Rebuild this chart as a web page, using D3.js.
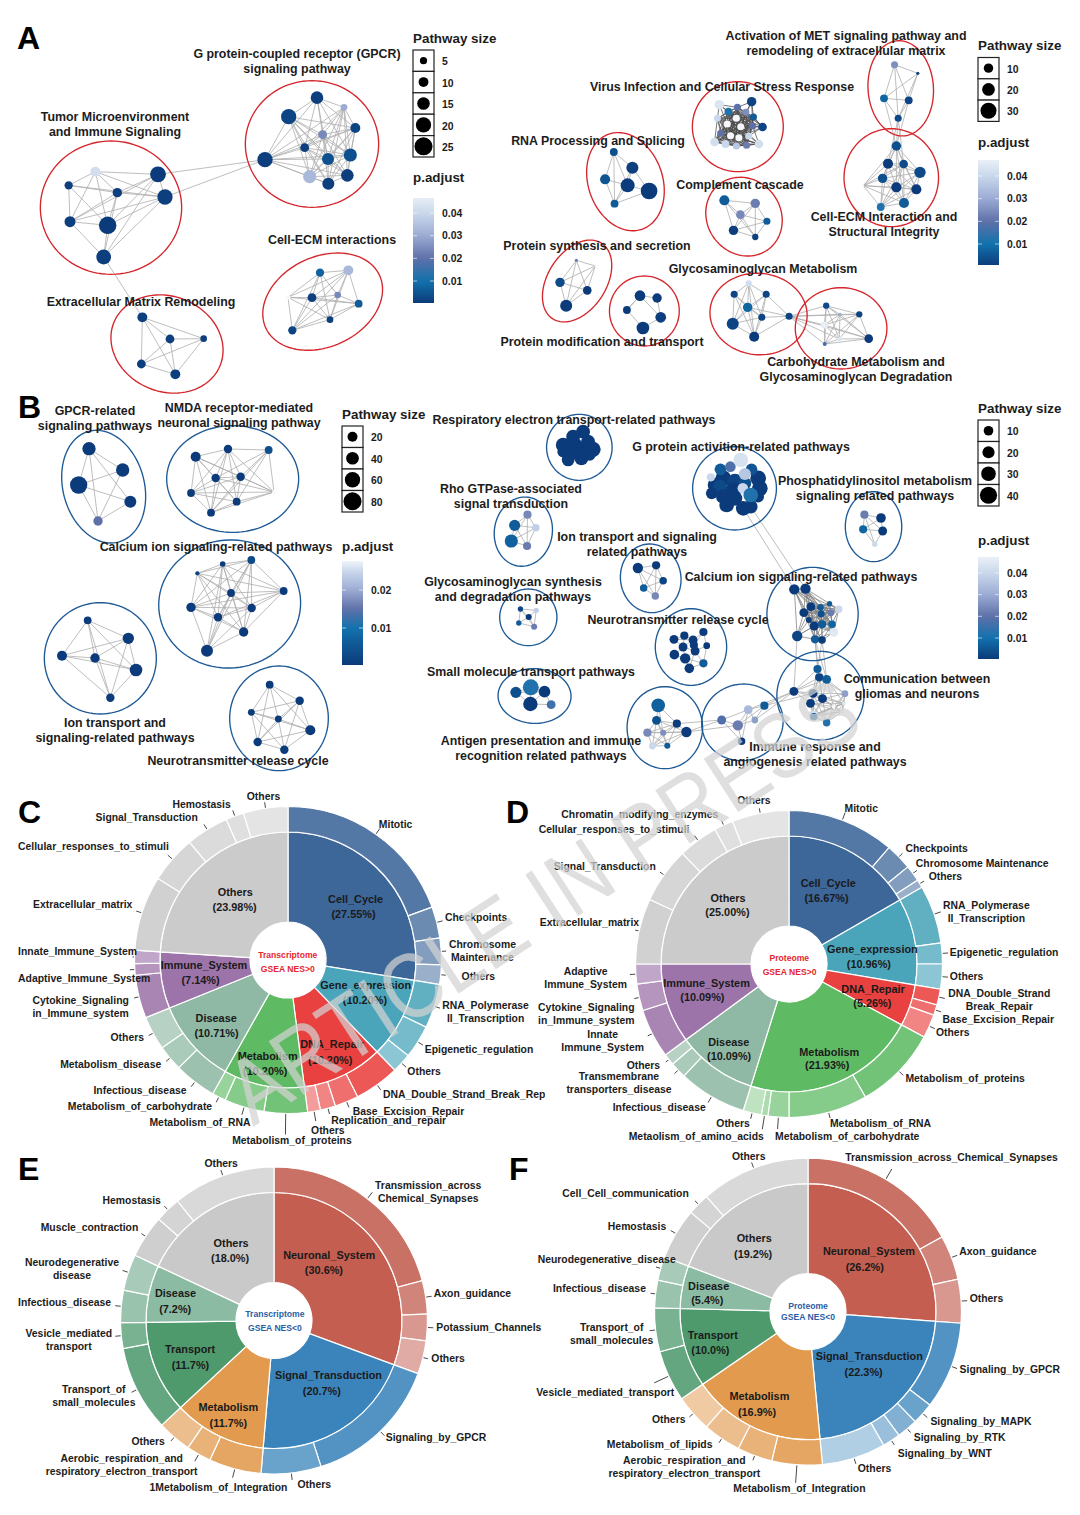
<!DOCTYPE html>
<html><head><meta charset="utf-8">
<script src="https://cdnjs.cloudflare.com/ajax/libs/d3/7.8.5/d3.min.js"></script>
<style>html,body{margin:0;padding:0;background:#fff}svg{display:block}text{font-family:"Liberation Sans",Arial,sans-serif}</style>
</head><body><svg id="c" width="1080" height="1515"></svg>
<script>
// ---------- DATA: network panels. Node = [layoutX, layoutY, pathway size, p.adjust]; edges = "source-targets" in base 36
const nTumor=[[286,470,10,.042],[474,478,21,.0005],[206,511,7,.001],[352,533,9,.001],[495,546,20,.001],[210,620,12,.001],[323,631,24,.0005],[311,726,19,.001]];
const eTumor="0-123456,1-34567,2-3456,3-4567,4-567,5-67,6-7";
const nGPCR=[[951,248,15,.001],[866,305,20,.002],[1032,277,4,.03],[1066,339,10,.002],[968,359,8,.024],[914,398,8,.001],[795,434,20,.001],[984,432,14,.004],[1051,420,16,.004],[929,485,16,.033],[985,506,14,.001],[1042,481,15,.001]];
const eGPCR="0-12345678,1-3456789ab,2-3456789ab,3-456789ab,4-56789ab,5-6789ab,6-789ab,7-89ab,8-9ab,9-ab,a-b";
const nCellECM=[[960,773,7,.007],[1045,766,10,.033],[864,847,1,.05],[936,848,8,.001],[1013,840,4,.024],[1076,866,6,.006],[990,914,4,.001],[877,946,7,.002]];
const eCellECM="0-123467,1-234567,2-3567,3-4567,4-567,5-67,6-7";
const nExt=[[427,907,10,.001],[510,972,8,.001],[611,971,4,.001],[424,1047,8,.001],[526,1078,10,.001]];
const eExt="0-1234,1-234,2-34,3-4";

const nMET=[[1085,134,7,.025],[1149,160,2,.001],[1056,235,8,.008],[1124,241,8,.002],[1095,295,7,.003]];
const eMET="0-1234,1-234,2-34,3-4";
const nVirus=[[692,245,10,.002],[603,254,10,.044],[628,275,8,.012],[653,262,7,.02],[676,277,7,.025],[697,291,7,.006],[722,321,9,.002],[598,295,7,.04],[650,295,7,.05],[625,312,7,.05],[662,320,7,.05],[695,318,7,.02],[607,340,7,.02],[634,347,7,.05],[657,353,7,.05],[684,348,7,.04],[590,366,9,.042],[620,372,8,.04],[650,378,7,.036],[678,376,7,.022],[712,372,9,.042]];
const eVirus="0-345ab,1-23789,2-3456789abcdefghij,3-456789abcdefghij,4-56789abcdefghij,5-6789abcdefghij,6-5abef,7-89abcdefghij,8-9abcdefghij,9-abcdefghij,a-bcdefghijk,b-cdefghijk,c-defghijk,d-efghijk,e-fghijk,f-ghijk,g-hijd,h-ijk,i-jk,j-k";
const nRNA=[[313,396,8,.004],[364,443,18,.001],[289,478,12,.005],[351,496,24,.0005],[410,513,32,.0005],[315,551,8,.006]];
const eRNA="0-1235,1-345,2-35,3-45,4-5";
const nCompl=[[617,541,12,.006],[702,550,10,.022],[661,584,9,.024],[734,604,7,.006],[642,631,10,.001],[702,651,6,.001]];
const eCompl="0-1245,1-2345,2-345,3-45,4-5";
const nECMI=[[1090,378,10,.004],[1067,431,12,.0005],[1110,432,9,.003],[1155,457,16,.003],[1052,475,10,.004],[999,497,1,.05],[1090,502,12,.0005],[1145,508,12,.0005],[1047,561,8,.012],[1111,549,12,.006]];
const eECMI="0-1234679,1-2345678,2-3456789,3-46789,4-56789,5-06789,6-789,7-89,8-9";
const nSynth=[[210,721,2,.022],[262,738,1,.05],[165,787,10,.003],[240,811,9,.0005],[182,857,18,.0005]];
const eSynth="0-1234,1-234,2-34,3-4";
const nMod=[[385,827,14,.0005],[432,834,10,.0005],[349,870,8,.0005],[442,892,14,.001],[393,924,20,.0005]];
const eMod="0-123,1-3,2-04,3-4";
const nGlyc=[[684,790,6,.042],[644,823,7,.002],[732,823,7,.002],[681,862,10,.008],[720,892,7,.002],[795,889,7,.002],[640,911,18,.002],[699,950,12,.0005]];
const eGlyc="0-123467,1-3467,2-34567,3-4567,4-567,5-7,6-7";
const nCarb=[[897,857,6,.003],[988,883,6,.002],[935,883,2,.03],[892,915,7,.047],[933,957,4,.044],[893,972,3,.015],[1014,956,9,.0005]];
const eCarb="0-123456,1-23456,2-3456,3-456,4-56,5-6";

const nGPCRb=[[267,176,45,.0005],[368,240,45,.0005],[236,285,75,.0005],[391,335,35,.0005],[294,393,18,.015]];
const eGPCRb="0-1234,1-24,2-34,3-4";
const nNMDA=[[587,200,20,.0005],[684,177,15,.0005],[806,180,13,.004],[647,264,15,.0005],[722,260,15,.0005],[573,309,13,.0005],[822,306,1,.028],[710,335,13,.0005],[633,368,13,.0005]];
const eNMDA="0-1345678,1-2345678,2-34678,3-45678,4-5678,5-678,6-78,7-8";
const nCa=[[592,550,2,.002],[668,522,6,.0005],[754,510,13,.003],[851,603,13,.0005],[693,609,13,.0005],[573,652,18,.0005],[755,654,15,.0005],[654,682,15,.0005],[731,726,18,.0005],[621,782,35,.0005]];
const eCa="0-12345678,1-23456789,2-3456789,3-45678,4-56789,5-6789,6-789,7-89,8-9";
const nIonb=[[263,691,13,.0005],[385,745,30,.0005],[186,797,20,.0005],[285,804,18,.0005],[408,840,40,.0005],[331,923,15,.0005]];
const eIonb="0-12345,1-2345,2-345,3-45,4-5";
const nNTb=[[809,884,13,.0005],[899,932,15,.0005],[754,967,10,.0005],[835,987,10,.0005],[931,1021,20,.0005],[773,1056,15,.0005],[853,1079,15,.0005]];
const eNTb="0-12345,1-23456,2-3456,3-456,4-56,5-6";

const nResp=[[381,125,27,.0005],[357,140,27,.0005],[333,165,30,.0005],[361,165,32,.0005],[393,155,27,.0005],[405,178,32,.0005],[381,185,32,.0005],[353,190,27,.0005],[345,210,22,.0005],[377,205,27,.0005],[333,185,18,.0005],[397,195,18,.0005]];
const eResp="0-1234,1-23,2-3,3-4,5-6";
const nGprot=[[803,265,34,.0005],[719,265,34,.0005],[699,285,30,.0005],[747,275,34,.002],[807,295,34,.0005],[743,300,34,.0005],[711,290,26,.003],[691,310,18,.0005],[719,320,30,.0005],[747,325,30,.0005],[727,345,30,.0005],[767,355,30,.0005],[785,350,26,.0005],[803,320,18,.0005],[712,238,18,.006],[736,230,14,.018],[787,238,18,.005],[771,280,22,.004],[689,262,8,.04],[761,210,30,.043],[771,252,20,.036],[766,295,14,.04],[785,315,30,.012]];
const eGprot="0-34,1-35,3-59,5-9a";
const nPhos=[[1059,374,8,.022],[1099,384,10,.0005],[1056,418,8,.008],[1103,423,9,.0005],[1084,463,4,.04]];
const ePhos="0-1234,1-23,2-34,3-4";
const nRho=[[247,374,8,.024],[216,406,16,.006],[267,413,7,.038],[208,453,24,.007],[246,468,8,.022]];
const eRho="0-1234,1-234,2-34,3-4";
const nIonR=[[513,534,13,.0005],[557,526,8,.0005],[574,572,7,.002],[527,594,7,.006],[555,618,7,.024]];
const eIonR="0-1234,1-234,2-34,3-4";
const nGAG=[[230,657,4,.003],[268,661,4,.038],[250,681,5,.0005],[226,699,4,.006],[263,710,5,.022]];
const eGAG="0-1234,1-24,2-34,3-4";
const nNTr=[[600,748,9,.0005],[625,737,8,.0005],[646,750,9,.0005],[671,726,8,.0005],[622,771,9,.0005],[651,783,9,.0005],[679,767,6,.0005],[601,794,10,.0005],[627,805,13,.0005],[671,820,8,.006],[637,835,10,.0005],[648,765,8,.0005]];
const eNTr="0-124,1-24,2-345b,3-6b,4-578,5-689a,6-9,7-8,8-9a,9-a";
const nSmall=[[219,907,16,.004],[255,892,35,.012],[288,905,18,.0005],[254,942,29,.0005],[304,944,9,.016]];
const eSmall="0-123,1-23,2-34,3-4";
const nAntigen=[[562,946,26,.007],[558,991,9,.004],[607,1001,8,.0005],[536,1028,8,.024],[574,1028,5,.025],[630,1026,13,.0005],[548,1068,6,.04],[584,1067,5,.006]];
const eAntigen="0-124,1-234567,2-34567,3-4567,4-567,5-67,6-7";
const nImmune=[[818,947,8,.006],[779,959,9,.033],[715,990,9,.018],[795,990,6,.028],[754,1006,13,.022],[763,1054,7,.0005]];
const eImmune="0-134,1-2345,2-45,3-4,4-5";
const nCaR=[[890,598,13,.0005],[917,596,13,.0005],[975,641,4,.006],[930,650,9,.0005],[953,652,6,.006],[997,658,7,.04],[978,668,6,.022],[913,668,9,.0005],[955,672,6,.004],[925,690,5,.001],[938,708,9,.0005],[957,703,8,.006],[981,703,7,.008],[985,727,9,.045],[897,738,13,.002],[940,748,8,.006],[957,750,7,.0005]];
const eCaR="0-13456789ae,1-3456789abc,2-3456789bc,3-456789abcdef,4-56789abcd,5-6789abcd,6-789abcd,7-89abcef,8-9abcdfg,9-abcdefg,a-bcdefg,b-cdfg,c-dfg,d-fg,e-af";
const nComm=[[946,837,8,.006],[950,862,8,.002],[968,868,9,.006],[889,904,9,.0005],[935,910,9,.0005],[958,926,9,.0005],[929,940,9,.0005],[1012,911,6,.028],[935,975,9,.042],[968,998,7,.012],[985,950,2,.05],[1005,965,2,.045],[937,980,7,.006],[1010,940,2,.045]];
const eComm="0-12345,1-234567,2-34567ad,3-456,4-56789abcd,5-6789abcd,6-89abcd,7-9abd,8-9abcd,9-abcd,a-bcd,b-cd,c-d";

// cross-cluster edges: [cluster, node, cluster, node]
const linksA1=[[0,1,1,6],[0,4,1,6],[0,7,3,0]];
const linksA2=[[0,4,3,0],[0,4,3,1],[0,4,3,2],[0,2,3,0],[0,3,3,0],[7,5,8,0],[7,5,8,1],[7,5,8,2],[7,5,8,3],[7,5,8,4],[7,5,8,5],[7,5,8,6]];
const linksB2=[[1,11,10,0],[1,12,10,1],[10,14,11,3],[10,15,11,0],[10,16,11,0],[10,15,11,1],[10,16,11,2],[10,15,11,2],[11,3,9,0],[11,3,9,1],[11,3,9,3],[11,4,9,0],[8,5,9,2],[8,5,9,4],[8,2,9,2]];

// ellipses round each cluster: [cx, cy, rx, ry, rotation]
const hullTumor=[333,578,212,200,0], hullGPCR=[936,387,200,190,0], hullCellECM=[968,860,188,135,-25], hullExt=[501,987,172,143,22];
const hullMET=[1102,205,90,143,-3], hullVirus=[654,320,125,135,0], hullRNA=[345,485,103,150,-15], hullCompl=[671,590,103,120,-20], hullECMI=[1076,473,130,147,0], hullSynth=[212,783,82,132,28], hullMod=[397,873,96,105,0], hullGlyc=[711,882,134,122,10], hullCarb=[938,925,126,122,0];
const hullGPCRb=[311,290,122,172,-15], hullNMDA=[698,267,198,160,0], hullCa=[689,642,213,192,-5], hullIonb=[301,805,168,167,0], hullNTb=[837,985,148,157,0];
const hullResp=[372,172,79,99,0], hullGprot=[746,295,101,125,0], hullPhos=[1081,410,68,105,0], hullRho=[237,425,70,104,4], hullIonR=[544,565,73,103,-3], hullGAG=[249,682,69,85,0], hullNTr=[641,771,86,115,0], hullSmall=[264,918,88,82,5], hullAntigen=[578,1013,91,123,0], hullImmune=[765,997,98,115,5], hullCaR=[934,672,110,140,0], hullComm=[953,917,105,133,0];

// tick values
const sizesA1=[5,10,15,20,25], sizesA2=[10,20,30], sizesB1=[20,40,60,80], sizesB2=[10,20,30,40];
const pTicksA=[.01,.02,.03,.04], pTicksB1=[.01,.02];

// ---------- DATA: sunburst panels
const groupsC=["Cell_Cycle","Gene_expression","DNA_Repair","Metabolism","Disease","Immune_System","Others"];
const sharesC=[27.55,10.20,10.20,10.20,10.71,7.14,23.98];
const subsC=[["Mitotic","Checkpoints","Chromosome\nMaintenance","Others"],["RNA_Polymerase\nII_Transcription","Epigenetic_regulation","Others"],["DNA_Double_Strand_Break_Repair","Base_Excision_Repair","Replication_and_repair","Others"],["Metabolism_of_proteins","Metabolism_of_RNA","Metabolism_of_carbohydrate"],["Infectious_disease","Metabolism_disease","Others"],["Cytokine_Signaling\nin_Immune_system","Adaptive_Immune_System","Innate_Immune_System"],["Extracellular_matrix","Cellular_responses_to_stimuli","Signal_Transduction","Hemostasis","Others"]];
const subValsC=[[19.4,3.3,2.8,2.05],[4.65,3.5,2.05],[4.75,2.5,1.6,1.35],[4.55,4.2,1.45],[4.45,2.7,3.56],[4.54,1.2,1.4],[7.9,5.0,4.5,1.9,4.68]];
const groupsD=["Cell_Cycle","Gene_expression","DNA_Repair","Metabolism","Disease","Immune_System","Others"];
const sharesD=[16.67,10.96,5.26,21.93,10.09,10.09,25.00];
const subsD=[["Mitotic","Checkpoints","Chromosome Maintenance","Others"],["RNA_Polymerase\nII_Transcription","Epigenetic_regulation","Others"],["DNA_Double_Strand\nBreak_Repair","Base_Excision_Repair","Others"],["Metabolism_of_proteins","Metabolism_of_RNA","Metabolism_of_carbohydrate","Metaolism_of_amino_acids","Others"],["Infectious_disease","Transmembrane\ntransporters_disease","Others"],["Innate\nImmune_System","Cytokine_Signaling\nin_Immune_system","Adaptive\nImmune_System"],["Extracellular_matrix","Signal_Transduction","Cellular_responses_to_stimuli","Chromatin_modifying_enzymes","Others"]];
const subValsD=[[11.3,2.8,1.7,.87],[6.13,2.2,2.63],[1.67,1.1,2.49],[8.81,8.3,2.2,.7,1.92],[7.18,1.7,1.21],[5.19,2.8,2.1],[6.9,5.9,4.2,2.0,6.0]];
const groupsE=["Neuronal_System","Signal_Transduction","Metabolism","Transport","Disease","Others"];
const sharesE=[30.6,20.7,11.7,11.7,7.2,18.0];
const subsE=[["Transmission_across\nChemical_Synapses","Axon_guidance","Potassium_Channels","Others"],["Signaling_by_GPCR","Others"],["1Metabolism_of_Integration","Aerobic_respiration_and\nrespiratory_electron_transport","Others"],["Transport_of\nsmall_molecules","Vesicle_mediated\ntransport"],["Infectious_disease","Neurodegenerative\ndisease"],["Muscle_contraction","Hemostasis","Others"]];
const subValsE=[[20.8,3.5,2.8,3.5],[14.4,6.3],[5.5,2.6,3.6],[9.0,2.7],[3.4,3.8],[4.5,2.7,10.8]];
const groupsF=["Neuronal_System","Signal_Transduction","Metabolism","Transport","Disease","Others"];
const sharesF=[26.2,22.3,16.9,10.0,5.4,19.2];
const subsF=[["Transmission_across_Chemical_Synapses","Axon_guidance","Others"],["Signaling_by_GPCR","Signaling_by_MAPK","Signaling_by_RTK","Signaling_by_WNT","Others"],["Metabolism_of_Integration","Aerobic_respiration_and\nrespiratory_electron_transport","Metabolism_of_lipids","Others"],["Vesicle_mediated_transport","Transport_of\nsmall_molecules"],["Infectious_disease","Neurodegenerative_disease"],["Hemostasis","Cell_Cell_communication","Others"]];
const subValsF=[[16.9,4.7,4.6],[9.2,2.3,2.2,1.9,6.7],[5.3,3.7,4.0,3.9],[5.4,4.6],[2.9,2.5],[5.4,2.3,11.5]];

// ---------- LAYOUT (kept apart from the data)
const svg=d3.select("#c");
const gEdges=svg.append("g"), gMarks=svg.append("g"), gText=svg.append("g");
const ramp=["#0c3878","#1272ad","#5f70a8","#9cabd3","#c9d8eb","#f6f8fb"];
const colA=d3.scaleLinear().domain([0,.01,.02,.03,.04,.05]).range(ramp);
const colB1=d3.scaleLinear().domain([0,.01,.015,.02,.025,.028]).range(ramp);
const hullRed="#d5262c", hullBlue="#1d5a96";
const INK="#1c1c1c", NETFS=12.4, PIEFS=10.4;
const meshDark=["#4c4c4c",.75], meshMid=["#7d7d7d",.75], meshStd=["#adadad",.8];

function parseEdges(s){const out=[];s.split(",").filter(Boolean).forEach(t=>{const[a,b]=t.split("-");[...b].forEach(c=>out.push([parseInt(a,36),parseInt(c,36)]));});return out;}
function ellipse(h){const[cx,cy,rx,ry,rot]=h,t=rot*Math.PI/180;return d3.range(96).map(i=>{const u=i/96*2*Math.PI,x=rx*Math.cos(u),y=ry*Math.sin(u);return[cx+x*Math.cos(t)-y*Math.sin(t),cy+x*Math.sin(t)+y*Math.cos(t)];});}

function net(p){
  const sx=d3.scaleLinear().domain(p.dx).range(p.rx), sy=d3.scaleLinear().domain(p.dy).range(p.ry);
  const r=d3.scaleLinear().domain(p.sizeDom).range(p.sizeRange);
  const line=d3.line().x(d=>sx(d[0])).y(d=>sy(d[1])).curve(d3.curveLinearClosed);
  const all=[];
  p.clusters.forEach(([n,e,h,m])=>parseEdges(e).forEach(([a,b])=>{if(n[a]&&n[b]&&a!==b)all.push([n[a],n[b],m||meshStd]);}));
  p.links.forEach(([c1,a,c2,b])=>all.push([p.clusters[c1][0][a],p.clusters[c2][0][b],meshStd]));
  gEdges.append("g").selectAll("line").data(all).join("line")
    .attr("x1",d=>sx(d[0][0])).attr("y1",d=>sy(d[0][1])).attr("x2",d=>sx(d[1][0])).attr("y2",d=>sy(d[1][1]))
    .attr("stroke",d=>d[2][0]).attr("stroke-width",d=>d[2][1]);
  const nodes=p.clusters.flatMap(c=>c[0]);
  gMarks.append("g").selectAll("circle").data(nodes).join("circle")
    .attr("cx",d=>sx(d[0])).attr("cy",d=>sy(d[1])).attr("r",d=>r(d[2])).attr("fill",d=>p.col(d[3]));
  gMarks.append("g").selectAll("path").data(p.clusters).join("path")
    .attr("d",d=>line(ellipse(d[2]))).attr("fill","none").attr("stroke",p.hull).attr("stroke-width",1.35);
  gText.append("g").selectAll("text").data(p.labels.flatMap(([t,x,y])=>t.split("\n").map((s,i)=>[s,x,y+i*14.7]))).join("text")
    .attr("x",d=>d[1]).attr("y",d=>d[2]).attr("dy",".35em").attr("text-anchor","middle").attr("font-weight",700).attr("font-size",NETFS).attr("fill",INK).text(d=>d[0]);
  // size legend
  const L=p.legend, bh=L.boxH;
  gText.append("text").attr("x",L.x).attr("y",L.titleY).attr("dy",".35em").attr("font-weight",700).attr("font-size",13.4).attr("fill",INK).text("Pathway size");
  const lg=gMarks.append("g").attr("transform",`translate(${L.x},${L.boxY})`);
  p.sizes.forEach((s,i)=>{
    lg.append("rect").attr("x",0).attr("y",i*bh).attr("width",21).attr("height",bh).attr("fill","#fff").attr("stroke","#222").attr("stroke-width",1.2);
    lg.append("circle").attr("cx",10.5).attr("cy",i*bh+bh/2).attr("r",r(s)).attr("fill","#000");
    lg.append("text").attr("x",29).attr("y",i*bh+bh/2+1).attr("dy",".35em").attr("font-weight",700).attr("font-size",10.4).attr("fill",INK).text(s);
  });
  // colour legend
  gText.append("text").attr("x",L.x).attr("y",L.pY).attr("dy",".35em").attr("font-weight",700).attr("font-size",13.4).attr("fill",INK).text("p.adjust");
  const py=d3.scaleLinear().domain(L.pDom).range(L.pRange);
  const id="g"+p.id, defs=svg.append("defs").append("linearGradient").attr("id",id).attr("x1",0).attr("x2",0).attr("y1",1).attr("y2",0);
  const [lo,hi]=[py.invert(L.barB),py.invert(L.barT)];
  d3.range(0,1.001,.05).forEach(t=>defs.append("stop").attr("offset",t).attr("stop-color",p.col(lo+t*(hi-lo))));
  gMarks.append("rect").attr("x",L.x).attr("y",L.barT).attr("width",21).attr("height",L.barB-L.barT).attr("fill",`url(#${id})`);
  const ax=gText.append("g").attr("transform",`translate(${L.x+21},0)`).call(d3.axisRight(py).tickValues(p.pTicks).tickSize(0).tickPadding(8).tickFormat(d3.format(".2f")));
  ax.select(".domain").remove();
  ax.selectAll("text").attr("font-weight",700).attr("font-size",10.4).attr("fill",INK).style("font-family",'"Liberation Sans"');
  p.pTicks.forEach(v=>[[0,4],[17,21]].forEach(([a,b])=>gMarks.append("line").attr("x1",L.x+a).attr("x2",L.x+b).attr("y1",py(v)).attr("y2",py(v)).attr("stroke","#fff").attr("stroke-width",.6)));
}

net({id:"a1",dx:[0,1500],rx:[0,500],dy:[0,1140],ry:[15,395],sizeDom:[1,5,25],sizeRange:[2.5,3.6,9],col:colA,hull:hullRed,sizes:sizesA1,pTicks:pTicksA,links:linksA1,
 clusters:[[nTumor,eTumor,hullTumor],[nGPCR,eGPCR,hullGPCR],[nCellECM,eCellECM,hullCellECM],[nExt,eExt,hullExt]],
 labels:[["G protein-coupled receptor (GPCR)\nsignaling pathway",297,54],["Tumor Microenvironment\nand Immune Signaling",115,117],["Cell-ECM interactions",332,240],["Extracellular Matrix Remodeling",141,302]],
 legend:{x:413,titleY:38,boxY:50,boxH:21.4,pY:177,barT:198,barB:303,pDom:[.01,.04],pRange:[281,213]}});
net({id:"a2",dx:[0,2.75],rx:[500,501],dy:[0,1110],ry:[20,390],sizeDom:[1,2,10,30],sizeRange:[1,1.6,4.7,8],col:colA,hull:hullRed,sizes:sizesA2,pTicks:pTicksA,links:linksA2,
 clusters:[[nMET,eMET,hullMET],[nVirus,eVirus,hullVirus,meshDark],[nRNA,eRNA,hullRNA],[nECMI,eECMI,hullECMI],[nCompl,eCompl,hullCompl],[nSynth,eSynth,hullSynth],[nMod,eMod,hullMod],[nGlyc,eGlyc,hullGlyc],[nCarb,eCarb,hullCarb]],
 labels:[["Activation of MET signaling pathway and\nremodeling of extracellular matrix",846,36],["Virus Infection and Cellular Stress Response",722,87],["RNA Processing and Splicing",598,141],["Complement cascade",740,185],["Protein synthesis and secretion",597,246],["Glycosaminoglycan Metabolism",763,269],["Cell-ECM Interaction and\nStructural Integrity",884,217],["Protein modification and transport",602,342],["Carbohydrate Metabolism and\nGlycosaminoglycan Degradation",856,362]],
 legend:{x:978,titleY:45,boxY:57.5,boxH:21.3,pY:142,barT:160,barB:265,pDom:[.01,.04],pRange:[244,176]}});
net({id:"b1",dx:[0,1290],rx:[0,430],dy:[0,1170],ry:[390,780],sizeDom:[1,20,80],sizeRange:[2,5,9],col:colB1,hull:hullBlue,sizes:sizesB1,pTicks:pTicksB1,links:[],
 clusters:[[nGPCRb,eGPCRb,hullGPCRb],[nNMDA,eNMDA,hullNMDA],[nCa,eCa,hullCa],[nIonb,eIonb,hullIonb],[nNTb,eNTb,hullNTb]],
 labels:[["GPCR-related\nsignaling pathways",95,411],["NMDA receptor-mediated\nneuronal signaling pathway",239,408],["Calcium ion signaling-related pathways",216,547],["Ion transport and\nsignaling-related pathways",115,723],["Neurotransmitter release cycle",238,761]],
 legend:{x:342,titleY:414,boxY:426,boxH:21.5,pY:546,barT:561,barB:665,pDom:[.01,.02],pRange:[628,590]}});
net({id:"b2",dx:[0,1568],rx:[425,1075.6],dy:[0,1170],ry:[390,780],sizeDom:[1,10,40],sizeRange:[1.6,4.8,8.6],col:colA,hull:hullBlue,sizes:sizesB2,pTicks:pTicksA,links:linksB2,
 clusters:[[nResp,eResp,hullResp],[nGprot,eGprot,hullGprot],[nPhos,ePhos,hullPhos],[nRho,eRho,hullRho],[nIonR,eIonR,hullIonR],[nGAG,eGAG,hullGAG],[nNTr,eNTr,hullNTr],[nSmall,eSmall,hullSmall],[nAntigen,eAntigen,hullAntigen],[nImmune,eImmune,hullImmune],[nCaR,eCaR,hullCaR,meshMid],[nComm,eComm,hullComm]],
 labels:[["Respiratory electron transport-related pathways",574,420],["G protein activition-related pathways",741,447],["Rho GTPase-associated\nsignal transduction",511,489],["Phosphatidylinositol metabolism\nsignaling  related pathways",875,481],["Ion transport and signaling\nrelated pathways",637,537],["Calcium ion signaling-related pathways",801,577],["Glycosaminoglycan synthesis\nand degradation pathways",513,582],["Neurotransmitter release cycle",678,620],["Small molecule transport pathways",531,672],["Communication between\ngliomas and neurons",917,679],["Antigen presentation and immune\nrecognition related pathways",541,741],["Immune response and\nangiogenesis  related pathways",815,747]],
 legend:{x:978,titleY:408,boxY:420,boxH:21.5,pY:540,barT:557,barB:659,pDom:[.01,.04],pRange:[638,573]}});

// ---------- sunbursts
const colsCD=["#3d6699","#4ba5ba","#e8413f","#5fba64","#8fb9a4","#9d74a9","#cbcbcb"];
const colsEF=["#c35e50","#3a84bb","#e29a4e","#4f9a6d","#8cbba3","#c9c9c9"];
const R0=38,R1=128,R2=153.5;

const layoutC={cx:288,cy:960,ox:0,oy:785,center:["Transcriptome","GSEA NES>0"],centerCol:"#e6262c",centerPos:[[828,511],[828,552]],pctFmt:".2f",
 inner:[[1023,342,1017,388],[1052,600,1050,645],[955,778,950,826],[770,813,763,860],[622,699,623,745],[587,541,577,587],[677,321,675,367]],
 sub:[[1090,117],[1280,396],[1388,478],[1328,575],[1397,662],[1222,792],[1172,858],[1102,928],[1015,978],[953,1005],[895,1035],[668,1065],[430,1011],[195,965],[269,916],[173,837],[318,757],[232,646],[52,581],[52,499],[95,359],[52,184],[275,97],[496,58],[710,34]],
 tick:[7,6,5,5,6,6,6,6,6,6,10,21,8,6,6,5,5,5,5,2,6,6,6,6,6],clip:545};
const layoutD={cx:789,cy:964,ox:530,oy:785,center:["Proteome","GSEA NES>0"],centerCol:"#e6262c",centerPos:[[746,519],[747,560]],pctFmt:".2f",
 inner:[[858,295,853,341],[985,492,975,537],[987,613,985,654],[861,801,855,842],[572,773,573,814],[508,595,496,638],[570,340,568,381]],
 sub:[[905,71],[1080,190],[1110,235],[1147,273],[1313,360],[1208,501],[1208,573],[1350,625],[1187,702],[1168,743],[1080,880],[863,1016],[705,1053],[284,1053],[536,1014],[238,966],[256,874],[278,841],[209,747],[162,666],[160,558],[28,412],[68,245],[25,134],[90,87],[596,47]],
 tick:[8,5,5,5,7,6,6,6,6,6,6,6,12,14,6,7,5,4,5,5,6,4,5,6,5,5]};
const layoutE={cx:274,cy:1320.5,ox:0,oy:1150,center:["Transcriptome","GSEA NES<0"],centerCol:"#2a5ea6",centerPos:[[791,492],[791,533]],pctFmt:".1f",
 inner:[[947,315,932,362],[945,677,926,724],[657,773,657,821],[547,598,548,645],[505,431,504,478],[665,279,662,325]],
 sub:[[1232,106],[1248,429],[1255,531],[1241,626],[1110,862],[856,1004],[430,1011],[350,925],[378,874],[270,719],[198,549],[52,457],[207,338],[117,233],[295,152],[588,40]],
 tick:[8,6,6,5,6,7,9,8,5,6,6,6,6,5,5,6]};
const layoutF={cx:808,cy:1311.7,ox:530,oy:1150,center:["Proteome","GSEA NES<0"],centerCol:"#2a5ea6",centerPos:[[800,468],[800,500]],pctFmt:".1f",
 inner:[[975,305,963,351],[976,620,960,667],[660,740,653,786],[526,556,519,602],[514,408,510,451],[645,266,642,313]],
 sub:[[907,21],[1235,304],[1265,444],[1236,658],[1152,814],[1104,862],[1058,909],[943,955],[585,1015],[444,932],[221,884],[351,807],[18,727],[235,531],[66,416],[22,329],[224,228],[93,131],[581,18]],
 tick:[12,6,6,6,6,5,5,6,18,5,5,5,16,6,5,5,6,5,6]};

function sunburst(groups,shares,subs,vals,cols,L){
  const g=gMarks.append("g").attr("transform",`translate(${L.cx},${L.cy})`);
  const sx=d3.scaleLinear().domain([0,1568]).range([L.ox,L.ox+545]), sy=d3.scaleLinear().domain([0,1095]).range([L.oy,L.oy+365]);
  const inner=d3.pie().sort(null)(shares);
  const arcI=d3.arc().innerRadius(R0).outerRadius(R1);
  g.selectAll("path.i").data(inner).join("path").attr("class","i").attr("d",arcI).attr("fill",(d,i)=>cols[i]).attr("stroke","#fff").attr("stroke-width",1.2);
  const flat=vals.flatMap((v,i)=>v.map((x,j)=>({v:x,i,j,name:subs[i][j]})));
  const outer=d3.pie().sort(null).value(d=>d.v)(flat);
  const arcO=d3.arc().innerRadius(R1).outerRadius(R2);
  g.selectAll("path.o").data(outer).join("path").attr("class","o").attr("d",arcO)
    .attr("fill",d=>d3.interpolateRgb(cols[d.data.i],"#fff")(.12+d.data.j*(cols[d.data.i]==="#cbcbcb"||cols[d.data.i]==="#c9c9c9"?.09:.12)))
    .attr("stroke","#fff").attr("stroke-width",1.2);
  const ticks=gEdges.append("g").attr("transform",`translate(${L.cx},${L.cy})`);
  ticks.selectAll("line").data(outer).join("line")
    .each(function(d,i){const a=(d.startAngle+d.endAngle)/2-Math.PI/2;d3.select(this).attr("x1",(R2)*Math.cos(a)).attr("y1",(R2)*Math.sin(a)).attr("x2",(R2+L.tick[i])*Math.cos(a)).attr("y2",(R2+L.tick[i])*Math.sin(a));})
    .attr("stroke","#333").attr("stroke-width",.9);
  // inner labels
  const fmt=d3.format(L.pctFmt);
  groups.forEach((nm,i)=>{const[a,b,c,d]=L.inner[i];
    [[nm,a,b],[`(${fmt(shares[i])}%)`,c,d]].forEach(([t,x,y])=>gText.append("text").attr("x",sx(x)).attr("y",sy(y)).attr("dy",".35em").attr("text-anchor","middle").attr("font-weight",700).attr("font-size",PIEFS+.5).attr("fill","#1a1a1a").text(t));});
  L.center.forEach((t,i)=>gText.append("text").attr("x",sx(L.centerPos[i][0])).attr("y",sy(L.centerPos[i][1])).attr("dy",".35em").attr("text-anchor","middle").attr("font-weight",700).attr("font-size",8.6).attr("fill",L.centerCol).text(t));
  // outer labels
  flat.forEach((d,i)=>{const lines=d.name.split("\n"),[x,y]=L.sub[i];
    lines.forEach((t,k)=>{const el=gText.append("text").attr("x",sx(x)).attr("y",sy(y)+k*12.9).attr("dy",".35em").attr("text-anchor",lines.length>1?"middle":"start").attr("font-weight",700).attr("font-size",PIEFS).attr("fill",INK).text(t);
      if(L.clip&&d.name.startsWith("DNA_Double_Strand_Break"))el.attr("clip-path","url(#clipC)");});});
}
svg.append("defs").append("clipPath").attr("id","clipC").append("rect").attr("x",0).attr("y",1080).attr("width",545).attr("height",40);
sunburst(groupsC,sharesC,subsC,subValsC,colsCD,layoutC);
sunburst(groupsD,sharesD,subsD,subValsD,colsCD,layoutD);
sunburst(groupsE,sharesE,subsE,subValsE,colsEF,layoutE);
sunburst(groupsF,sharesF,subsF,subValsF,colsEF,layoutF);

// panel letters
const panelLetters=["A","B","C","D","E","F"], letterPos=[[17,49],[18,418],[18,823],[506,823],[18,1180],[509,1180]];
panelLetters.forEach((t,i)=>gText.append("text").attr("x",letterPos[i][0]).attr("y",letterPos[i][1]).attr("font-weight",700).attr("font-size",32).attr("fill","#000").text(t));
// watermark
svg.append("text").attr("transform","translate(253,1127) rotate(-33)").attr("font-size",92).attr("textLength",732).attr("lengthAdjust","spacingAndGlyphs").attr("fill","#d2d2d2").attr("fill-opacity",.72).text("ARTICLE IN PRESS");
</script></body></html>
